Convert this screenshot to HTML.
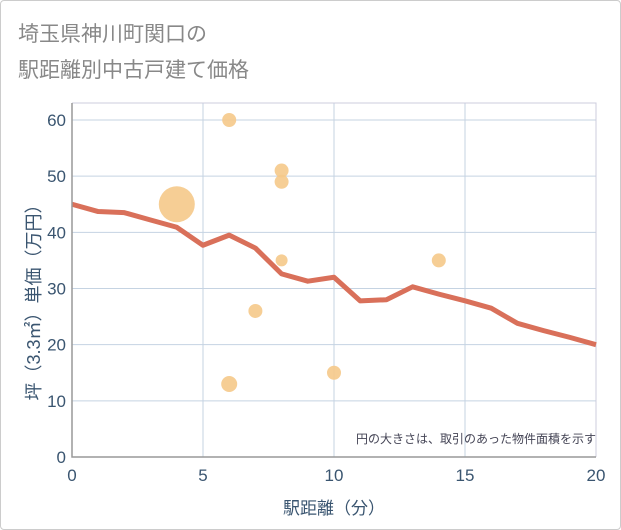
<!DOCTYPE html>
<html><head><meta charset="utf-8"><style>
body{margin:0;background:#fff;font-family:"Liberation Sans","Noto Sans CJK JP",sans-serif}
#card{position:absolute;left:0;top:0;width:619px;height:528px;border:1px solid #ccc;border-radius:4px}
</style></head><body>
<div id="card"></div>
<svg id="svg" width="621" height="530" style="position:absolute;left:0;top:0">
<text x="18" y="41" font-size="21" fill="#888">埼玉県神川町関口の</text>
<text x="18" y="77" font-size="21" fill="#888">駅距離別中古戸建て価格</text>
<g id="grid"></g><g id="dots"></g><g id="line"></g><g id="axes"></g>
<text x="596" y="443" font-size="12" fill="#445" text-anchor="end">円の大きさは、取引のあった物件面積を示す</text>
<text x="334" y="514" font-size="17" fill="#3a5570" text-anchor="middle">駅距離（分）</text>
<text transform="translate(40,298) rotate(-90)" font-size="18" fill="#3a5570" text-anchor="middle">坪（3.3㎡）単価（万円）</text>
</svg>
<script>
const xTicks=[0,5,10,15,20];
const yTicks=[0,10,20,30,40,50,60];
const lineX=[0,1,2,3,4,5,6,7,8,9,10,11,12,13,14,15,16,17,18,19,20];
const lineY=[45,43.7,43.5,42.2,40.9,37.7,39.5,37.2,32.6,31.3,32,27.8,28,30.3,29,27.8,26.5,23.8,22.5,21.3,20];
const dotX=[4,6,8,8,8,7,6,10,14];
const dotY=[45,60,51,49,35,26,13,15,35];
const dotR=[18,7,7,7,6,7,8,7,7];
const X=v=>72+v*(596-72)/20, Y=v=>457-v*(457-120)/60;
const NS="http://www.w3.org/2000/svg";
function mk(p,t,a){const e=document.createElementNS(NS,t);for(const k in a)e.setAttribute(k,a[k]);document.getElementById(p).appendChild(e);return e;}
for(const t of yTicks){
 if(t>0){const l=mk('grid','line',{x1:72,x2:596,y1:Y(t),y2:Y(t),stroke:'#c5d3e2'});
 
 }
 const tx=mk('axes','text',{x:66,y:Y(t)+6,'font-size':17,fill:'#3a5570','text-anchor':'end'});tx.textContent=t;
 
 
}
for(const t of xTicks){
 if(t>0){const l=mk('grid','line',{x1:X(t),x2:X(t),y1:103,y2:457,stroke:'#c5d3e2'});
 
 }
 const tx=mk('axes','text',{x:X(t),y:481,'font-size':17,fill:'#3a5570','text-anchor':'middle'});tx.textContent=t;
 
 
}
const fr=mk('axes','path',{d:'M72,103V457H596',fill:'none',stroke:'#999','stroke-width':1.5});


const tp=mk('grid','path',{d:'M72,103H596V457',fill:'none',stroke:'#ccd'});


dotX.forEach((x,i)=>{const c=mk('dots','circle',{cx:X(x),cy:Y(dotY[i]),r:dotR[i],fill:'#f5c98a','fill-opacity':0.9});
 
 });
const pl=mk('line','polyline',{points:lineX.map((x,i)=>X(x)+','+Y(lineY[i])).join(' '),fill:'none',stroke:'#d9705a','stroke-width':5,'stroke-linejoin':'round'});


</script>
</body></html>
